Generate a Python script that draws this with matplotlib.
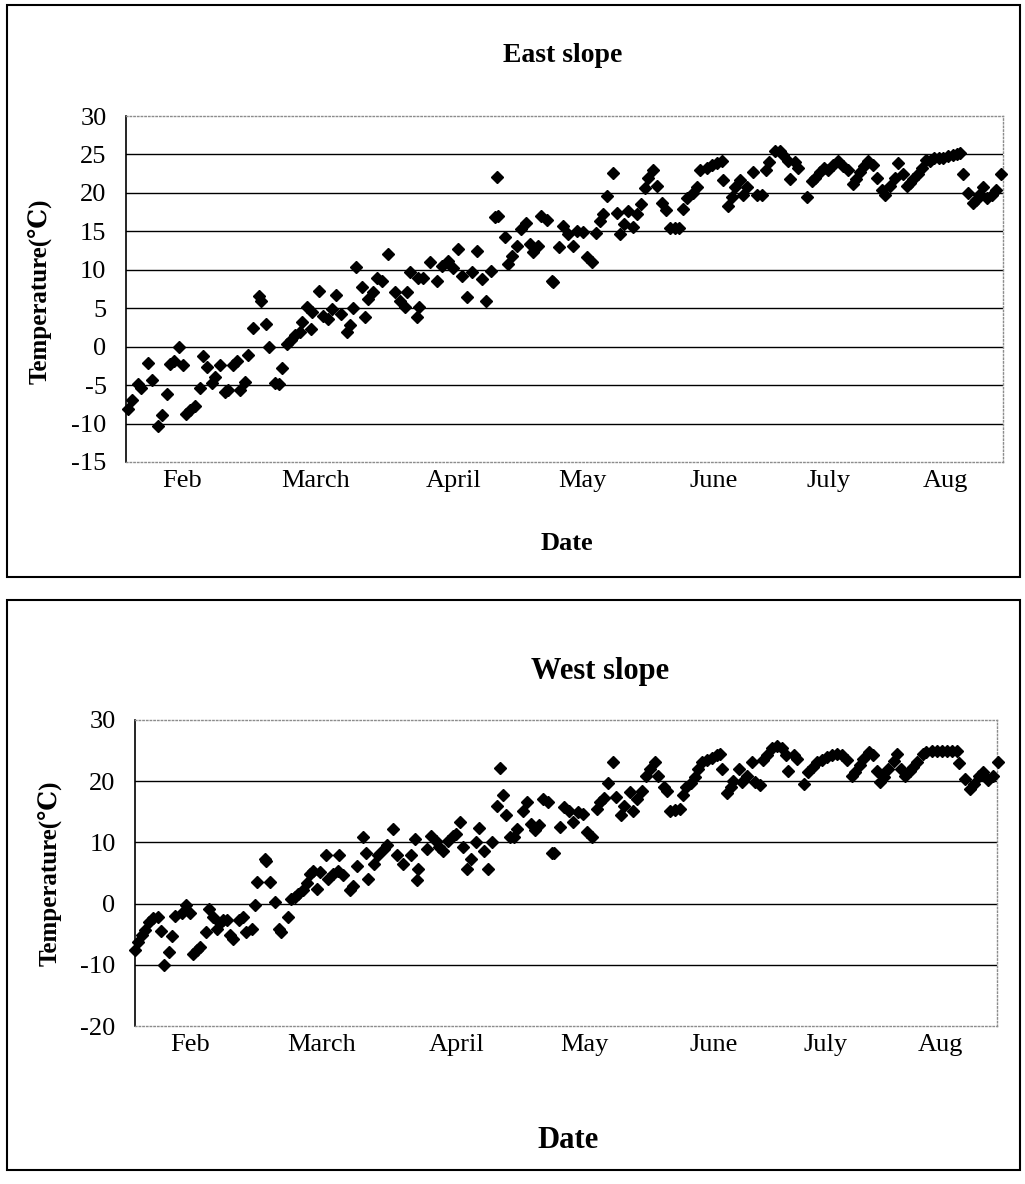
import matplotlib
matplotlib.use("Agg")
import matplotlib.pyplot as plt
from matplotlib.patches import Rectangle

plt.rcParams['font.family'] = ['Liberation Serif', 'DejaVu Serif']

# day index (0 = start of record, ~1 Feb) and daily mean temperature
east_day = [0.6, 1.4, 2.9, 3.5, 5.3, 6.2, 7.7, 8.6, 9.8, 10.6,
            11.5, 12.7, 13.7, 14.4, 15.3, 16.5, 17.7, 18.5, 19.4, 20.6,
            21.3, 22.5, 23.7, 24.5, 25.7, 26.6, 27.3, 28.5, 29.3, 30.5,
            31.9, 32.3, 33.6, 34.3, 35.7, 36.7, 37.4, 38.6, 39.6, 40.5,
            41.7, 42.2, 43.4, 44.4, 44.5, 46.3, 47.2, 48.4, 49.4, 50.4,
            51.6, 53.0, 53.7, 54.5, 55.2, 56.6, 57.3, 58.0, 59.2, 60.2,
            61.4, 62.8, 64.5, 65.7, 66.9, 67.4, 68.1, 69.8, 70.0, 70.3,
            71.2, 72.9, 74.6, 75.8, 77.2, 78.4, 79.6, 80.6, 81.8, 83.0,
            84.2, 85.4, 86.3, 87.5, 88.5, 89.2, 89.0, 90.9, 91.6, 92.6,
            93.8, 94.7, 95.9, 96.9, 97.6, 98.8, 99.5, 101.0, 102.2, 102.4,
            103.8, 104.8, 106.0, 107.2, 108.2, 109.6, 110.6, 111.8, 112.7, 113.7,
            114.4, 115.3, 116.8, 117.7, 118.5, 119.4, 120.4, 121.6, 122.5, 123.5,
            124.5, 125.2, 126.4, 127.3, 128.5, 129.5, 130.5, 131.7, 132.6, 133.6,
            134.5, 136.0, 136.9, 137.6, 139.3, 140.5, 141.7, 142.9, 143.2, 144.4,
            145.3, 146.0, 147.2, 148.0, 148.9, 150.4, 151.3, 152.5, 153.5, 154.2,
            155.6, 156.8, 157.6, 158.8, 159.2, 160.4, 161.2, 163.3, 164.5, 165.2,
            166.4, 167.4, 168.3, 169.5, 170.7, 171.9, 173.1, 174.3, 175.1, 176.0,
            177.0, 177.9, 179.1, 180.1, 181.3, 182.0, 183.2, 184.4, 185.1, 186.3,
            187.3, 188.0, 188.7, 189.9, 190.9, 191.8, 192.8, 193.8, 195.0, 195.9,
            197.1, 198.3, 199.3, 200.0, 200.7, 201.9, 203.1, 203.8, 204.6, 205.5,
            206.5, 207.7, 208.6, 209.8]
east_temp = [-8.1, -7.0, -4.9, -5.4, -2.1, -4.3, -10.3, -8.9, -6.2, -2.3,
             -1.9, -0.1, -2.4, -8.8, -8.3, -7.7, -5.4, -1.2, -2.7, -4.7,
             -3.9, -2.4, -5.9, -5.6, -2.4, -1.9, -5.6, -4.6, -1.1, 2.4,
             6.6, 6.0, 3.0, 0.0, -4.7, -4.9, -2.8, 0.4, 0.9, 1.5,
             1.9, 3.2, 5.2, 2.3, 4.5, 7.3, 4.0, 3.6, 4.9, 6.7,
             4.2, 1.9, 2.8, 5.0, 10.3, 7.7, 3.9, 6.2, 7.1, 8.9,
             8.6, 12.0, 7.1, 6.0, 5.2, 7.1, 9.7, 3.9, 8.9, 5.2,
             8.9, 11.0, 8.6, 10.5, 11.2, 10.2, 12.7, 9.2, 6.4, 9.7,
             12.4, 8.8, 5.9, 9.9, 16.9, 17.0, 22.1, 14.3, 10.7, 11.8,
             13.1, 15.3, 16.1, 13.3, 12.3, 13.1, 17.0, 16.5, 8.5, 8.4,
             12.9, 15.7, 14.6, 13.1, 15.0, 14.9, 11.6, 11.0, 14.8, 16.3,
             17.2, 19.6, 22.6, 17.4, 14.6, 16.0, 17.6, 15.6, 17.2, 18.6,
             20.7, 21.9, 23.0, 20.9, 18.7, 17.8, 15.5, 15.5, 15.5, 17.9,
             19.3, 20.0, 20.8, 23.0, 23.3, 23.6, 23.9, 24.2, 21.7, 18.3,
             19.5, 20.8, 21.7, 19.7, 20.8, 22.7, 19.7, 19.7, 23.0, 24.0,
             25.5, 25.5, 24.9, 24.2, 21.8, 24.0, 23.2, 19.5, 21.5, 21.9,
             22.7, 23.2, 23.0, 23.6, 24.2, 23.5, 23.0, 21.2, 21.8, 22.7,
             23.5, 24.2, 23.6, 21.9, 20.4, 19.7, 20.9, 22.0, 23.9, 22.5,
             20.9, 21.3, 21.8, 22.5, 23.3, 24.3, 24.1, 24.6, 24.5, 24.6,
             24.8, 24.9, 25.0, 25.2, 22.4, 20.0, 18.7, 19.1, 19.7, 20.8,
             19.3, 19.7, 20.4, 22.5]

west_day = [0.0, 0.8, 1.6, 2.4, 3.5, 4.5, 5.7, 6.3, 7.1, 8.4,
            9.0, 9.8, 11.4, 12.4, 13.4, 14.1, 15.0, 15.9, 17.3, 18.1,
            19.1, 19.9, 20.7, 21.5, 22.5, 23.2, 24.0, 25.4, 26.3, 27.1,
            28.5, 29.3, 29.8, 31.7, 32.0, 32.9, 34.1, 35.2, 35.5, 37.4,
            38.0, 39.0, 39.8, 40.9, 41.9, 42.7, 43.5, 44.5, 45.1, 46.6,
            47.1, 48.4, 49.6, 49.8, 50.8, 52.4, 53.2, 54.1, 55.7, 56.3,
            56.9, 58.3, 59.3, 60.6, 61.4, 62.9, 64.0, 65.4, 67.2, 68.3,
            68.7, 69.1, 71.1, 72.1, 73.4, 74.2, 75.0, 76.4, 77.5, 78.3,
            79.3, 80.1, 80.9, 81.9, 83.2, 84.0, 85.2, 86.0, 87.0, 88.2,
            89.0, 89.7, 90.5, 91.5, 92.4, 93.2, 94.7, 95.5, 96.5, 97.6,
            98.6, 99.4, 100.8, 101.6, 102.2, 103.7, 104.6, 105.9, 106.9, 108.1,
            109.2, 110.2, 111.4, 112.6, 113.4, 114.4, 115.4, 116.5, 117.3, 118.5,
            119.3, 120.6, 121.5, 122.5, 123.6, 124.6, 125.6, 126.8, 127.6, 128.9,
            129.8, 130.5, 131.7, 132.8, 133.6, 134.4, 135.5, 136.6, 137.4, 138.2,
            139.4, 140.6, 141.9, 142.7, 143.1, 144.3, 145.3, 145.9, 147.2, 148.0,
            149.2, 150.4, 151.2, 152.3, 153.2, 154.2, 155.3, 156.5, 157.7, 158.8,
            159.3, 160.6, 161.4, 163.2, 164.2, 165.3, 166.3, 167.5, 168.7, 169.9,
            171.1, 172.4, 173.6, 174.8, 175.6, 176.7, 177.6, 178.9, 179.9, 180.9,
            181.7, 182.7, 183.7, 185.0, 185.8, 186.7, 187.8, 189.0, 189.8, 190.8,
            192.1, 193.0, 194.3, 195.5, 196.7, 197.9, 199.2, 200.4, 201.0, 202.4,
            203.5, 204.6, 205.9, 206.9, 208.1, 209.3, 210.5]
west_temp = [-7.5, -6.2, -5.2, -4.3, -3.0, -2.4, -2.2, -4.5, -10.1, -7.9,
             -5.3, -2.1, -1.6, -0.3, -1.6, -8.2, -7.5, -7.1, -4.6, -0.8,
             -2.2, -4.1, -3.2, -2.7, -2.7, -5.2, -5.7, -2.6, -2.2, -4.6,
             -4.1, -0.3, 3.5, 7.3, 7.0, 3.5, 0.3, -4.2, -4.6, -2.2,
             0.8, 1.1, 1.6, 2.3, 3.4, 4.9, 5.4, 2.4, 5.2, 7.9,
             4.1, 4.9, 5.4, 8.0, 4.6, 2.2, 2.8, 6.1, 10.9, 8.2,
             4.1, 6.5, 7.9, 9.0, 9.5, 12.2, 8.0, 6.5, 7.9, 10.6,
             3.8, 5.7, 9.0, 11.0, 10.3, 9.2, 8.6, 10.3, 11.1, 11.4,
             13.3, 9.2, 5.7, 7.3, 10.1, 12.3, 8.6, 5.7, 10.1, 16.0,
             22.2, 17.8, 14.4, 10.9, 10.9, 12.2, 15.2, 16.6, 13.0, 12.0,
             12.8, 17.1, 16.6, 8.3, 8.2, 12.6, 15.8, 15.2, 13.3, 14.9,
             14.7, 11.7, 10.9, 15.5, 16.6, 17.3, 19.7, 23.1, 17.4, 14.4,
             15.9, 18.2, 15.2, 17.1, 18.4, 20.9, 22.0, 23.1, 20.9, 19.0,
             18.4, 15.2, 15.3, 15.5, 17.7, 19.1, 19.7, 20.7, 22.0, 23.1,
             23.5, 23.8, 24.2, 24.5, 22.0, 18.0, 19.0, 20.1, 22.0, 19.8,
             20.8, 23.1, 19.8, 19.3, 23.4, 24.2, 25.5, 25.8, 25.5, 24.2,
             21.7, 24.2, 23.6, 19.6, 21.5, 22.3, 23.1, 23.5, 23.9, 24.2,
             24.5, 24.2, 23.5, 20.9, 21.5, 22.6, 23.6, 24.7, 24.2, 21.7,
             19.8, 20.7, 22.0, 23.3, 24.5, 22.0, 20.9, 21.7, 22.3, 23.1,
             24.5, 24.7, 24.9, 25.0, 25.0, 24.9, 25.0, 25.0, 22.9, 20.4,
             18.8, 19.6, 20.9, 21.5, 20.2, 20.9, 23.1]

months = ['Feb', 'March', 'April', 'May', 'June', 'July', 'Aug']
month_pos = [13.5, 45.5, 78.5, 109.5, 141, 168.5, 196.5]

fig = plt.figure(figsize=(10.25, 11.84), dpi=100)

# outer frames around each chart
for b, h in [(0.5127, 0.4831), (0.0118, 0.4814)]:
    fig.patches.append(Rectangle((0.0068, b), 0.9883, h, transform=fig.transFigure,
                                 fill=False, edgecolor='black', lw=1.5))


def panel(rect, days, temps, ylim, step, xmax):
    ax = fig.add_axes(rect)
    ax.plot(days, temps, linestyle='none', marker='D', ms=6.5,
            color='black', clip_on=False, zorder=3)
    ax.set_xlim(0, xmax)
    ax.set_ylim(*ylim)
    yt = list(range(ylim[0], ylim[1] + 1, step))
    ax.set_yticks(yt)
    ax.set_yticklabels([str(v) for v in yt])
    for v in yt[1:-1]:
        ax.axhline(v, color='black', lw=1.0, zorder=1)
    ax.set_xticks(month_pos)
    ax.set_xticklabels(months)
    ax.tick_params(axis='both', length=0, labelsize=19)
    ax.tick_params(axis='y', pad=14)
    ax.tick_params(axis='x', pad=6)
    ax.spines['left'].set_color('black')
    ax.spines['left'].set_linewidth(1.2)
    for s in ['top', 'right', 'bottom']:
        ax.spines[s].set_color('0.55')
        ax.spines[s].set_linestyle(':')
        ax.spines[s].set_linewidth(1.0)
    return ax


panel([0.1229, 0.6098, 0.8556, 0.2922], east_day, east_temp, (-15, 30), 5, 210.3)
panel([0.1317, 0.1334, 0.8410, 0.2585], west_day, west_temp, (-20, 30), 10, 210.2)

fig.text(563 / 1025, 1 - 56 / 1184, 'East slope', ha='center', va='center',
         fontsize=20, fontweight='bold')
fig.text(567 / 1025, 1 - 543 / 1184, 'Date', ha='center', va='center',
         fontsize=19, fontweight='bold')
fig.text(40 / 1025, 1 - 291 / 1184, 'Temperature(℃)', ha='center', va='center',
         rotation=90, fontsize=18, fontweight='bold')

fig.text(600 / 1025, 1 - 672 / 1184, 'West slope', ha='center', va='center',
         fontsize=22, fontweight='bold')
fig.text(568 / 1025, 1 - 1141 / 1184, 'Date', ha='center', va='center',
         fontsize=22, fontweight='bold')
fig.text(50 / 1025, 1 - 873 / 1184, 'Temperature(℃)', ha='center', va='center',
         rotation=90, fontsize=18, fontweight='bold')

fig.savefig('out.png', dpi=100)
